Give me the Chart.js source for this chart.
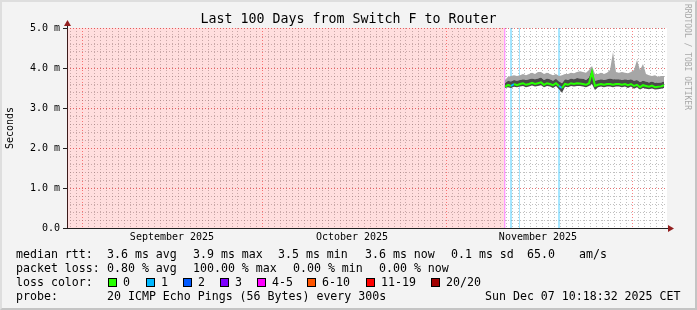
<!DOCTYPE html>
<html>
<head>
<meta charset="utf-8">
<script src="https://cdn.jsdelivr.net/npm/chart.js@4/dist/chart.umd.min.js"></script>
<style>
html, body { margin: 0; padding: 0; }
body { width: 697px; height: 310px; position: relative; background: #f3f3f3; overflow: hidden; font-family: 'DejaVu Sans Mono', monospace; }
#frame { position: absolute; left: 0; top: 0; width: 697px; height: 310px; box-sizing: border-box; border: 2px solid; border-color: #dedede #c4c4c4 #c4c4c4 #dedede; }
#chart { position: absolute; left: 0; top: 0; }
.lg { position: absolute; font-size: 11.6px; line-height: 14px; white-space: pre; color: #000; }
.box { position: absolute; width: 7px; height: 7px; border: 1px solid #000; }
#mark { position: absolute; left: 683px; top: 4px; font-size: 8px; line-height: 9px; color: #a8a8a8; writing-mode: vertical-rl; }
</style>
</head>
<body>
<div id="frame"></div>
<canvas id="chart" width="697" height="310"></canvas>
<div id="mark">RRDTOOL / TOBI OETIKER</div>
<div id="legend"></div>
<script>
// time axis is in days since the start of the 100 day window
const dataStartDay = 73;
const stepDays = 0.5;

const median = [3.53, 3.58, 3.55, 3.60, 3.57, 3.60, 3.62, 3.58, 3.60, 3.63,
  3.60, 3.62, 3.64, 3.58, 3.62, 3.60, 3.57, 3.62, 3.55, 3.50,
  3.60, 3.58, 3.62, 3.60, 3.62, 3.61, 3.60, 3.58, 3.62, 3.90,
  3.55, 3.58, 3.60, 3.58, 3.60, 3.60, 3.58, 3.60, 3.60, 3.58,
  3.60, 3.57, 3.60, 3.55, 3.58, 3.52, 3.57, 3.55, 3.53, 3.56,
  3.52, 3.53, 3.54, 3.57];
const smokeMin = [3.50, 3.52, 3.50, 3.53, 3.52, 3.54, 3.55, 3.52, 3.54, 3.56,
  3.54, 3.55, 3.57, 3.52, 3.55, 3.54, 3.50, 3.55, 3.47, 3.38,
  3.53, 3.52, 3.55, 3.54, 3.55, 3.55, 3.54, 3.52, 3.55, 3.60,
  3.45, 3.52, 3.54, 3.52, 3.54, 3.54, 3.52, 3.54, 3.54, 3.52,
  3.54, 3.50, 3.54, 3.48, 3.52, 3.46, 3.50, 3.48, 3.47, 3.49,
  3.46, 3.47, 3.48, 3.50];
const smokeUpper = [3.62, 3.68, 3.66, 3.70, 3.68, 3.70, 3.72, 3.70, 3.72, 3.74,
  3.72, 3.74, 3.76, 3.70, 3.74, 3.72, 3.68, 3.73, 3.66, 3.62,
  3.72, 3.70, 3.74, 3.72, 3.75, 3.74, 3.73, 3.70, 3.76, 3.98,
  3.68, 3.70, 3.72, 3.70, 3.72, 3.74, 3.72, 3.72, 3.72, 3.70,
  3.72, 3.70, 3.72, 3.68, 3.70, 3.65, 3.68, 3.66, 3.64, 3.66,
  3.63, 3.63, 3.64, 3.66];
const smokeMax = [3.70, 3.78, 3.80, 3.82, 3.80, 3.82, 3.85, 3.82, 3.85, 3.88,
  3.85, 3.90, 3.90, 3.85, 3.88, 3.85, 3.82, 3.85, 3.80, 3.82,
  3.85, 3.85, 3.88, 3.87, 3.90, 3.92, 3.90, 3.88, 3.95, 4.05,
  3.85, 3.85, 3.88, 3.85, 3.88, 3.95, 4.40, 3.90, 3.88, 3.90,
  3.88, 3.87, 3.90, 3.95, 4.20, 3.95, 4.10, 3.85, 3.82, 3.80,
  3.82, 3.78, 3.80, 3.80];
const lossClass = [0, 0, 1, 0, 0, 0, 0, 0, 0, 0,
  0, 0, 0, 0, 0, 0, 0, 0, 1, 0,
  0, 0, 0, 0, 0, 0, 0, 0, 0, 0,
  0, 0, 0, 0, 0, 0, 0, 0, 0, 0,
  0, 0, 0, 0, 0, 0, 0, 0, 0, 0,
  0, 0, 0, 0];

// loss background spans: [startDay, endDay, loss class]
const lossSpans = [[0, 72.83, 7], [72.83, 73.1, 4], [73.83, 74.17, 1], [75.33, 75.5, 1], [81.83, 82.17, 1]];

const lossLabels = ['0', '1', '2', '3', '4-5', '6-10', '11-19', '20/20'];
const lossColors = ['#26ff00', '#00b8ff', '#0059ff', '#7e00ff', '#ff00ff', '#ff5500', '#ff0000', '#a10000'];

const monthLabels = ['September 2025', 'October 2025', 'November 2025'];
const monthLabelDays = [17.5, 47.5, 78.5];
const monthStartDays = [2.5, 32.5, 63.33, 94.33];

const rttStats = ['3.6 ms avg', '3.9 ms max', '3.5 ms min', '3.6 ms now', '0.1 ms sd', '65.0', 'am/s'];
const lossStats = ['0.80 % avg', '100.00 % max', '0.00 % min', '0.00 % now'];
const probeText = '20 ICMP Echo Pings (56 Bytes) every 300s';
const stampText = 'Sun Dec 07 10:18:32 2025 CET';

const lossBg = { 1: 'rgba(0,184,255,0.35)', 4: 'rgba(255,0,255,0.4)', 7: 'rgba(255,0,0,0.13)' };

const pts = arr => arr.map((v, i) => ({ x: dataStartDay + i * stepDays, y: v }));

function dayGrid() {
  const out = [];
  for (let d = monthStartDays[0] - 1; d > 0; d -= 1) out.push(d);
  monthStartDays.forEach((m, i) => {
    const next = i + 1 < monthStartDays.length ? monthStartDays[i + 1] : 100;
    for (let d = m + 1; d < next - 0.01; d += 1) out.push(d);
  });
  return out;
}

const datasets = [
  {
    data: pts(median), borderWidth: 2, pointRadius: 0, fill: false, order: 0,
    borderColor: lossColors[0],
    segment: { borderColor: c => lossColors[lossClass[c.p0DataIndex]] }
  },
  { data: pts(smokeMin), borderWidth: 0, pointRadius: 0, fill: false, order: 3 },
  { data: pts(smokeUpper), borderWidth: 0, pointRadius: 0, fill: '-1', backgroundColor: '#4a4a4a', order: 2 },
  { data: pts(smokeMax), borderWidth: 0, pointRadius: 0, fill: '-1', backgroundColor: '#a6a6a6', order: 2 }
];
lossSpans.forEach(s => {
  datasets.push({
    data: [{ x: s[0], y: 5 }, { x: s[1], y: 5 }],
    borderWidth: 0, pointRadius: 0, fill: 'origin',
    backgroundColor: lossBg[s[2]], order: 10
  });
});

const minorGrid = 'rgba(130,130,130,0.5)';
const majorGrid = 'rgba(245,79,79,0.7)';
const axisColor = '#202020';

const canvasBg = {
  id: 'canvasBg',
  beforeDraw(chart) {
    const { ctx, chartArea: a } = chart;
    ctx.save();
    ctx.fillStyle = '#ffffff';
    ctx.fillRect(a.left, a.top, a.right - a.left, a.bottom - a.top);
    ctx.restore();
  }
};

const arrows = {
  id: 'arrows',
  afterDraw(chart) {
    const { ctx, chartArea: a } = chart;
    const x0 = Math.round(a.left) + 0.5;
    const y0 = Math.round(a.bottom) + 0.5;
    ctx.save();
    ctx.strokeStyle = axisColor;
    ctx.lineWidth = 1;
    ctx.beginPath();
    ctx.moveTo(x0, a.top);
    ctx.lineTo(x0, a.top - 3);
    ctx.moveTo(a.right, y0);
    ctx.lineTo(a.right + 2, y0);
    ctx.stroke();
    ctx.fillStyle = '#921f1f';
    ctx.beginPath();
    ctx.moveTo(x0, a.top - 8);
    ctx.lineTo(x0 - 3.5, a.top - 2);
    ctx.lineTo(x0 + 3.5, a.top - 2);
    ctx.closePath();
    ctx.fill();
    ctx.beginPath();
    ctx.moveTo(a.right + 7, y0);
    ctx.lineTo(a.right + 1, y0 - 3.5);
    ctx.lineTo(a.right + 1, y0 + 3.5);
    ctx.closePath();
    ctx.fill();
    ctx.restore();
  }
};

Chart.defaults.font.family = 'DejaVu Sans Mono';
Chart.defaults.color = '#000';

new Chart(document.getElementById('chart'), {
  type: 'line',
  data: { datasets },
  plugins: [canvasBg, arrows],
  options: {
    responsive: false,
    animation: false,
    events: [],
    layout: { padding: 0 },
    plugins: {
      legend: { display: false },
      tooltip: { enabled: false },
      title: {
        display: true,
        text: 'Last 100 Days from Switch F to Router',
        color: '#000',
        font: { size: 13.3, weight: 'normal', lineHeight: '16px' },
        padding: { top: 12, bottom: 0 }
      }
    },
    scales: {
      x: {
        type: 'linear', min: 0, max: 100, position: 'bottom',
        afterBuildTicks: s => { s.ticks = monthLabelDays.map(v => ({ value: v })); },
        ticks: { autoSkip: false, maxRotation: 0, padding: 3, font: { size: 10 }, color: '#000', callback: (v, i) => monthLabels[i] },
        grid: { display: false, drawTicks: false },
        border: { display: true, color: axisColor, width: 1 },
        afterFit: s => { s.height = 82; }
      },
      y: {
        type: 'linear', min: 0, max: 5, position: 'left',
        ticks: { stepSize: 1, padding: 3, font: { size: 10 }, color: '#000', callback: v => v === 0 ? '0.0' : v.toFixed(1) + ' m' },
        grid: { drawOnChartArea: false, drawTicks: true, tickLength: 4, tickColor: axisColor },
        border: { color: axisColor, width: 1 },
        title: { display: true, text: 'Seconds', color: '#000', font: { size: 10 }, padding: { top: 4.5, bottom: 0 } },
        afterFit: s => { s.width = 67; }
      },
      xMinor: {
        type: 'linear', min: 0, max: 100, position: 'bottom',
        afterBuildTicks: s => { s.ticks = dayGrid().map(v => ({ value: v })); },
        ticks: { display: false },
        grid: { color: minorGrid, drawTicks: false },
        border: { display: false, dash: [1, 2] },
        afterFit: s => { s.height = 0; }
      },
      xMajor: {
        type: 'linear', min: 0, max: 100, position: 'bottom',
        afterBuildTicks: s => { s.ticks = monthStartDays.map(v => ({ value: v })); },
        ticks: { display: false },
        grid: { color: majorGrid, drawTicks: false },
        border: { display: false, dash: [1, 2] },
        afterFit: s => { s.height = 0; }
      },
      yMinor: {
        type: 'linear', min: 0, max: 5, position: 'left',
        ticks: { display: false, stepSize: 0.2 },
        grid: { color: minorGrid, drawTicks: false },
        border: { display: false, dash: [1, 2] },
        afterFit: s => { s.width = 0; }
      },
      yMajor: {
        type: 'linear', min: 0, max: 5, position: 'left',
        ticks: { display: false, stepSize: 1 },
        grid: { color: majorGrid, drawTicks: false },
        border: { display: false, dash: [1, 2] },
        afterFit: s => { s.width = 0; }
      },
      yPad: {
        type: 'linear', position: 'right',
        ticks: { display: false },
        grid: { display: false },
        border: { display: false },
        afterFit: s => { s.width = 30; }
      }
    }
  }
});

// legend block under the graph
const legend = document.getElementById('legend');
function text(x, cy, str) {
  const d = document.createElement('div');
  d.className = 'lg';
  d.style.left = x + 'px';
  d.style.top = (cy - 7) + 'px';
  d.textContent = str;
  legend.appendChild(d);
}
const rttX = [107, 193, 278, 365, 451, 527, 579];
const lossX = [107, 193, 293, 379];
const boxX = [108, 146, 183, 220, 257, 307, 366, 431];

text(16, 254, 'median rtt:');
rttStats.forEach((s, i) => text(rttX[i], 254, s));
text(16, 268, 'packet loss:');
lossStats.forEach((s, i) => text(lossX[i], 268, s));
text(16, 282, 'loss color:');
lossLabels.forEach((s, i) => {
  const b = document.createElement('div');
  b.className = 'box';
  b.style.left = boxX[i] + 'px';
  b.style.top = '278px';
  b.style.background = lossColors[i];
  legend.appendChild(b);
  text(boxX[i] + 15, 282, s);
});
text(16, 296, 'probe:');
text(107, 296, probeText);
text(485, 296, stampText);
</script>
</body>
</html>
